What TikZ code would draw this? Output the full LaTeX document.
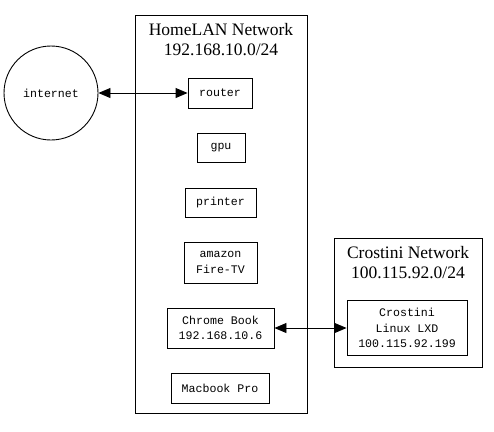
\documentclass[tikz,border=0pt]{standalone}
\usepackage{fontspec}
\setmainfont{Liberation Serif}
\newfontfamily\nodefont{Liberation Mono}
\usetikzlibrary{arrows.meta}
\begin{document}
\begin{tikzpicture}[x=1pt,y=-1pt,
  dev/.style={draw, line width=0.9pt, inner sep=0pt, align=center,
    font=\nodefont\fontsize{11.6}{15.2}\selectfont},
  clusterbox/.style={draw, line width=0.9pt, inner sep=0pt},
  ctitle/.style={align=center, inner sep=0pt, font=\fontsize{17.5}{20}\selectfont},
  link/.style={line width=0.9pt, {Triangle[length=12pt,width=10pt]}-{Triangle[length=12pt,width=10pt]}}]
\useasboundingbox (0,0) rectangle (494,431);
% clusters
\node[clusterbox, minimum width=172pt, minimum height=398pt] (home) at (221,214) {};
\node[ctitle] (hometitle) at (221,40) {HomeLAN Network\\192.168.10.0/24};
\node[clusterbox, minimum width=148pt, minimum height=129pt] (cros) at (408,302.5) {};
\node[ctitle] (crostitle) at (408,263) {Crostini Network\\100.115.92.0/24};
% nodes
\node[draw, circle, line width=0.9pt, minimum size=94pt, inner sep=0pt,
  font=\nodefont\fontsize{11.6}{15.2}\selectfont] (internet) at (51,93) {internet};
\node[dev, minimum width=64pt, minimum height=30pt] (router) at (220,93) {router};
\node[dev, minimum width=48pt, minimum height=29pt] (gpu) at (221,148) {gpu};
\node[dev, minimum width=71pt, minimum height=29pt] (printer) at (220.5,202.5) {printer};
\node[dev, minimum width=73pt, minimum height=41pt] (firetv) at (220.5,262.5) {amazon\\Fire-TV};
\node[dev, minimum width=107pt, minimum height=40pt] (chrome) at (220.5,328) {Chrome Book\\192.168.10.6};
\node[dev, minimum width=98pt, minimum height=30pt] (macbook) at (220,388) {Macbook Pro};
\node[dev, minimum width=120pt, minimum height=55pt] (lxd) at (407,328) {Crostini\\Linux LXD\\100.115.92.199};
% links
\draw[link] (internet) -- (router);
\draw[link] (chrome) -- (lxd);
\end{tikzpicture}
\end{document}
